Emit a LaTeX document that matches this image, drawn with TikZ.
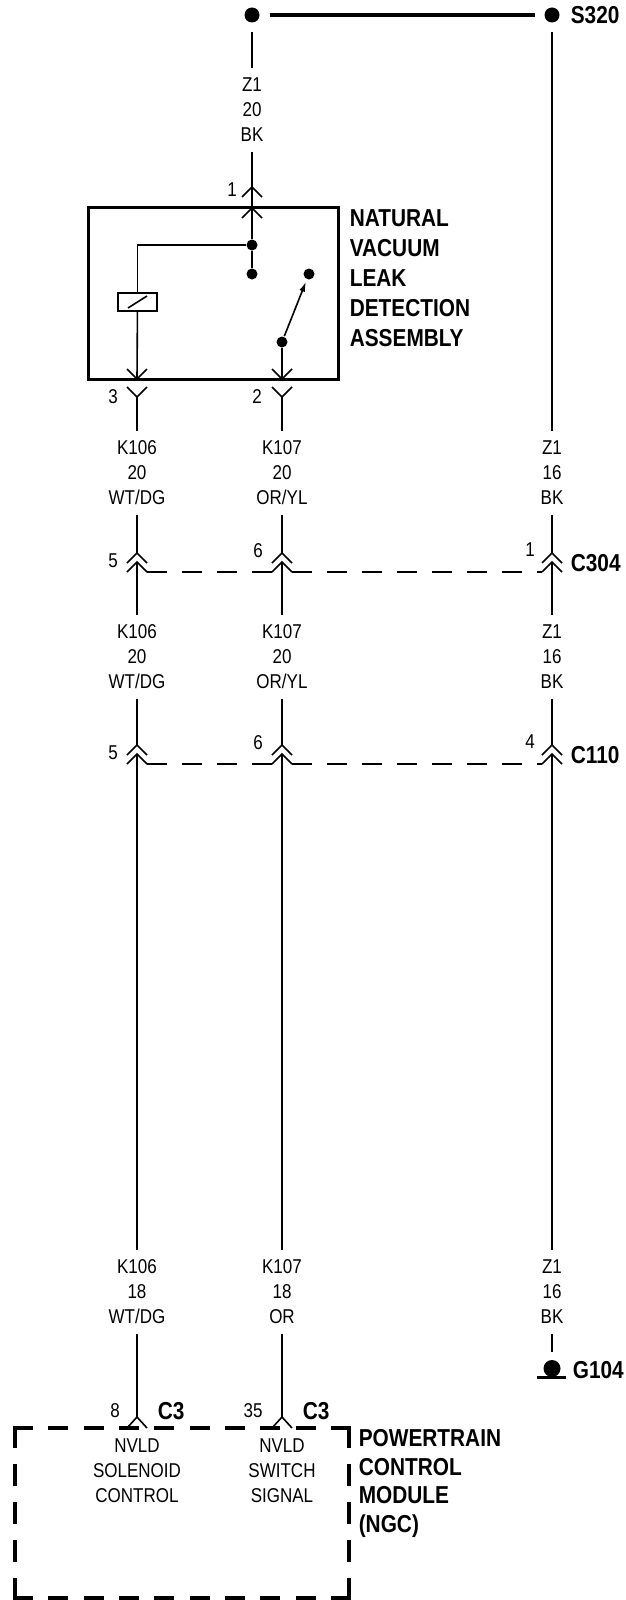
\documentclass[tikz,border=0pt]{standalone}
\usepackage{fontspec}
\setmainfont{Liberation Sans}[FakeStretch=0.85]
\usetikzlibrary{arrows.meta}
\newcommand\wirefont{\fontsize{20}{25}\selectfont}
\newcommand\namefont{\fontsize{24.5}{30}\selectfont\bfseries}

\begin{document}
\begin{tikzpicture}
  [x=1pt,y=-1pt,line width=1.6pt,font=\wirefont,
   every node/.style={inner sep=0pt},
   jdot/.style={circle,fill,minimum size=11pt},
   splice/.style={circle,fill,minimum size=15pt,outer sep=10pt},
   wirelabel/.style={align=center,inner sep=9pt},
   conname/.style={font=\namefont,anchor=west},
   modname/.style={font=\namefont,align=left,anchor=north west},
   harness/.style={line width=2.2pt,dash pattern=on 20pt off 15pt},
   pcm/.style={line width=4.5pt,line cap=rect}]
  \fill[white] (0,0) rectangle (626,1600);
  \useasboundingbox (0,0) rectangle (626,1600);

  \node[splice] (s1) at (252,15) {};
  \node[splice] (s2) at (552,15) {};
  \node[conname] (s320) at (570,15) {S320};
  \draw[line width=4.5pt] (s1) -- (s2);

  \node[wirelabel] (w1) at (252,110) {Z1\\20\\BK};
  \coordinate (p1) at (252,187);
  \node (n1) at (232,190) {1};
  \draw (s1) -- (w1);
  \draw (w1) -- (p1);
  \draw (p1) ++(-10,10) -- (p1) -- ++(10,10);

  \node[draw,line width=3pt,minimum width=250pt,minimum height=172pt] (nvld) at (213,293) {};
  \node[modname] (nvldname) at (349,209) {NATURAL\\VACUUM\\LEAK\\DETECTION\\ASSEMBLY};

  \coordinate (p1in) at (252,208);
  \draw (p1in) ++(-10,10) -- (p1in) -- ++(10,10);
  \node[jdot] (j1) at (252,245) {};
  \node[jdot] (k1) at (252,274) {};
  \node[jdot] (k2) at (309,274) {};
  \node[jdot] (k3) at (282,342) {};
  \draw (p1) -- (j1) -- (k1);
  \node[draw,line width=2pt,minimum width=39pt,minimum height=18pt] (coil) at (137.5,302) {};
  \draw (j1) -| (coil);
  \draw ([shift={(-9.5,6)}]coil.center) -- ([shift={(9.5,-6)}]coil.center);
  \draw[-{Latex[length=10pt,width=6pt]},shorten >=2pt] (k3) -- (k2);

  \coordinate (p3in) at (137,379);
  \coordinate (p2in) at (282,379);
  \draw (coil) -- (p3in);
  \draw (k3) -- (p2in);
  \draw (p3in) ++(-10,-10) -- (p3in) -- ++(10,-10);
  \draw (p2in) ++(-10,-10) -- (p2in) -- ++(10,-10);

  \coordinate (p3) at (137,397);
  \coordinate (p2) at (282,397);
  \draw (p3) ++(-10,-10) -- (p3) -- ++(10,-10);
  \draw (p2) ++(-10,-10) -- (p2) -- ++(10,-10);
  \node (n3) at (113,397) {3};
  \node (n2) at (257,397) {2};

  \node[wirelabel] (w3a) at (137,473) {K106\\20\\WT/DG};
  \node[wirelabel] (w2a) at (282,473) {K107\\20\\OR/YL};
  \node[wirelabel] (w4a) at (552,473) {Z1\\16\\BK};
  \draw (p3) -- (w3a);
  \draw (p2) -- (w2a);
  \draw (s2) -- (w4a);

  \foreach \c/\y in {c304/572,c110/764}{
    \foreach \w/\x in {a/137,b/282,c/552}{
      \coordinate (\c-\w-up) at (\x,\y-19);
      \coordinate (\c-\w-lo) at (\x,\y-10);
      \coordinate (\c-\w-l) at (\x-10,\y);
      \coordinate (\c-\w-r) at (\x+10,\y);
      \draw (\c-\w-up) ++(-10,10) -- (\c-\w-up) -- ++(10,10);
      \draw (\c-\w-l) -- (\c-\w-lo) -- (\c-\w-r);
    }
    \draw[harness] (\c-a-r) -- (\c-b-l);
    \draw[harness] (\c-b-r) -- (\c-c-l);
  }
  \node (c304n5) at (113,561) {5};
  \node (c304n6) at (258,551) {6};
  \node (c304n1) at (530,550) {1};
  \node[conname] (c304) at (570,563) {C304};
  \node (c110n5) at (113,753) {5};
  \node (c110n6) at (258,743) {6};
  \node (c110n4) at (530,742) {4};
  \node[conname] (c110) at (570,755) {C110};

  \draw (w3a) -- (c304-a-up);
  \draw (w2a) -- (c304-b-up);
  \draw (w4a) -- (c304-c-up);

  \node[wirelabel] (w3b) at (137,657) {K106\\20\\WT/DG};
  \node[wirelabel] (w2b) at (282,657) {K107\\20\\OR/YL};
  \node[wirelabel] (w4b) at (552,657) {Z1\\16\\BK};
  \draw (c304-a-lo) -- (w3b);
  \draw (c304-b-lo) -- (w2b);
  \draw (c304-c-lo) -- (w4b);
  \draw (w3b) -- (c110-a-up);
  \draw (w2b) -- (c110-b-up);
  \draw (w4b) -- (c110-c-up);

  \node[wirelabel] (w3c) at (137,1292) {K106\\18\\WT/DG};
  \node[wirelabel] (w2c) at (282,1292) {K107\\18\\OR};
  \node[wirelabel] (w4c) at (552,1292) {Z1\\16\\BK};
  \draw (c110-a-lo) -- (w3c);
  \draw (c110-b-lo) -- (w2c);
  \draw (c110-c-lo) -- (w4c);

  \coordinate (g104) at (552,1352);
  \draw (w4c) -- (g104);
  \fill (552,1368.5) circle[radius=8.5];
  \draw[line width=3pt] (537,1377) -- (566,1377);
  \node[conname] (g104n) at (572,1370) {G104};

  \coordinate (p8) at (137,1417);
  \coordinate (p35) at (282,1417);
  \draw (w3c) -- (p8);
  \draw (w2c) -- (p35);
  \draw (p8) ++(-10,11) -- (p8) -- ++(10,11);
  \draw (p35) ++(-10,11) -- (p35) -- ++(10,11);
  \node (n8) at (115,1411) {8};
  \node[conname] (c3a) at (157,1411) {C3};
  \node (n35) at (253,1411) {35};
  \node[conname] (c3b) at (302,1411) {C3};

  \draw[pcm,dash pattern=on 15.5pt off 19.89pt] (15,1428) -- (349,1428);
  \draw[pcm,dash pattern=on 15.5pt off 19.89pt] (15,1598) -- (349,1598);
  \draw[pcm,dash pattern=on 17.5pt off 20.63pt] (15,1428) -- (15,1598);
  \draw[pcm,dash pattern=on 17.5pt off 20.63pt] (349,1428) -- (349,1598);
  \node[align=center] (pcm1) at (137,1471) {NVLD\\SOLENOID\\CONTROL};
  \node[align=center] (pcm2) at (282,1471) {NVLD\\SWITCH\\SIGNAL};
  \node[modname,font=\fontsize{24.5}{28.5}\selectfont\bfseries] (pcmname) at (358,1429) {POWERTRAIN\\CONTROL\\MODULE\\(NGC)};
\end{tikzpicture}
\end{document}
